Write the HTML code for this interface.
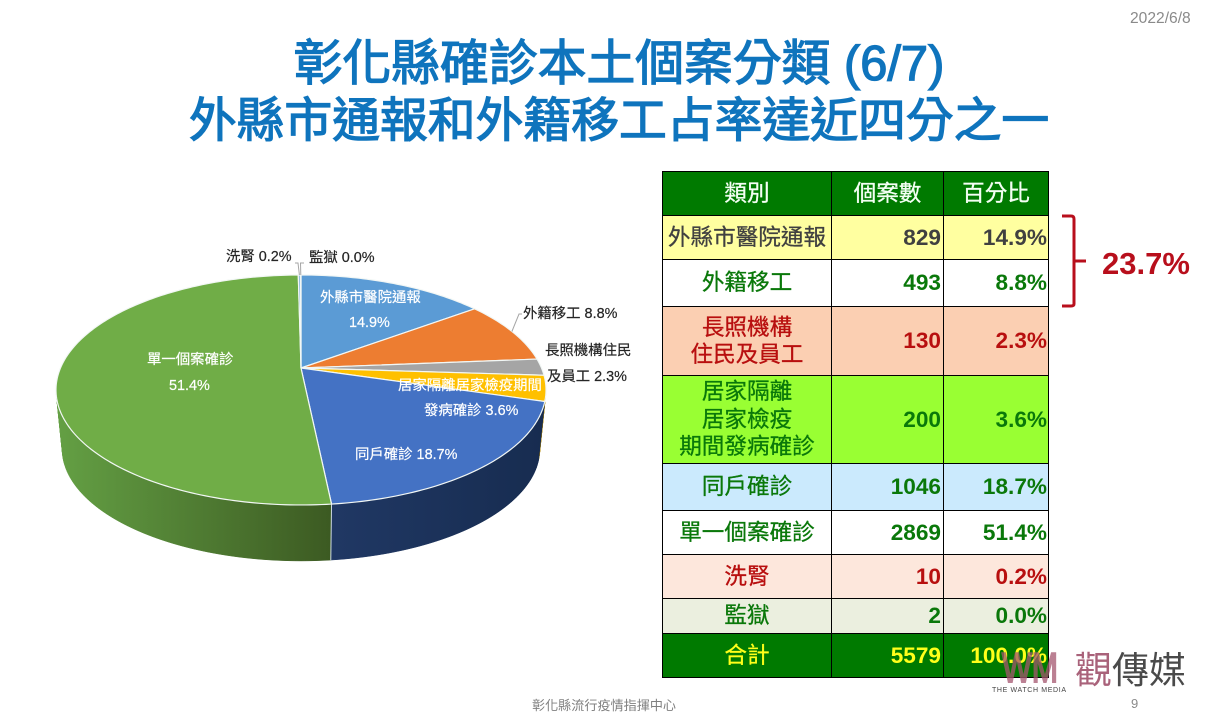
<!DOCTYPE html>
<html lang="zh-Hant">
<head>
<meta charset="utf-8">
<title>彰化縣確診本土個案分類</title>
<style>
html,body{margin:0;padding:0;background:#fff;}
#slide{position:relative;width:1209px;height:720px;overflow:hidden;background:#fff;font-family:"Liberation Sans","Noto Sans CJK TC",sans-serif;}
.abs{position:absolute;white-space:nowrap;}
.title{left:0;width:1238px;text-align:center;font-weight:400;color:#0f74bd;line-height:56px;-webkit-text-stroke:1.3px #0f74bd;}
#pie{position:absolute;left:0;top:0;}
#pie text{font-family:"Liberation Sans","Noto Sans CJK TC",sans-serif;font-size:14.4px;}
.lb{fill:#262626;stroke:#262626;stroke-width:0.2px;}
.lw{fill:#fff;stroke:#fff;stroke-width:0.2px;}
table{position:absolute;left:662px;top:171px;border-collapse:collapse;table-layout:fixed;width:386px;font-family:"Liberation Sans","Noto Sans CJK TC",sans-serif;}
td{border:1.5px solid #000;padding:0;font-size:22.6px;line-height:27.5px;text-align:center;color:#0a780a;-webkit-text-stroke:0.3px currentColor;}
td.n{text-align:right;padding-right:2px;font-weight:700;font-size:22.6px;-webkit-text-stroke:0;}
td.p{padding-right:1px;}
.red td{color:#b80f0f;}
.hd td{background:#007a00;color:#f4fff4;}
.tot td{background:#007a00;color:#ffff1a;}
</style>
</head>
<body>
<div id="slide">
  <div class="abs" style="left:1130px;top:10px;font-size:15.6px;color:#8a8a8a;">2022/6/8</div>
  <div class="abs title" style="top:36px;font-size:48.8px;">彰化縣確診本土個案分類 (6/7)</div>
  <div class="abs title" style="top:94px;font-size:47.8px;">外縣市通報和外籍移工占率達近四分之一</div>

  <svg id="pie" width="1209" height="720" viewBox="0 0 1209 720">
    <defs id="pie-defs"></defs>
    <g id="pie-sides"></g>
    <g id="pie-tops"></g>
    <g id="pie-leaders"></g>
    <g>
      <text class="lb" x="226" y="261">洗腎 0.2%</text>
      <text class="lb" x="309" y="262">監獄 0.0%</text>
      <text class="lw" x="320" y="302">外縣市醫院通報</text>
      <text class="lw" x="349" y="327">14.9%</text>
      <text class="lb" x="523" y="318">外籍移工 8.8%</text>
      <text class="lb" x="545" y="355">長照機構住民</text>
      <text class="lb" x="547" y="381">及員工 2.3%</text>
      <text class="lw" x="398" y="390">居家隔離居家檢疫期間</text>
      <text class="lw" x="424" y="415">發病確診 3.6%</text>
      <text class="lw" x="355" y="459">同戶確診 18.7%</text>
      <text class="lw" x="147" y="364">單一個案確診</text>
      <text class="lw" x="169" y="390">51.4%</text>
    </g>
  </svg>

  <table>
    <colgroup><col style="width:169px"><col style="width:112px"><col style="width:105px"></colgroup>
    <tr class="hd" style="height:44px"><td>類別</td><td>個案數</td><td>百分比</td></tr>
    <tr style="height:44px;background:#ffffa0"><td style="color:#404040">外縣市醫院通報</td><td class="n" style="color:#404040">829</td><td class="n p" style="color:#404040">14.9%</td></tr>
    <tr style="height:47px;background:#fff"><td>外籍移工</td><td class="n">493</td><td class="n p">8.8%</td></tr>
    <tr class="red" style="height:69px;background:#fbcfb2"><td>長照機構<br>住民及員工</td><td class="n">130</td><td class="n p">2.3%</td></tr>
    <tr style="height:88px;background:#99ff33"><td>居家隔離<br>居家檢疫<br>期間發病確診</td><td class="n">200</td><td class="n p">3.6%</td></tr>
    <tr style="height:47px;background:#cbeafd"><td>同戶確診</td><td class="n">1046</td><td class="n p">18.7%</td></tr>
    <tr style="height:44px;background:#fff"><td>單一個案確診</td><td class="n">2869</td><td class="n p">51.4%</td></tr>
    <tr class="red" style="height:44px;background:#fde7dc"><td>洗腎</td><td class="n">10</td><td class="n p">0.2%</td></tr>
    <tr style="height:35px;background:#ebefdf"><td>監獄</td><td class="n">2</td><td class="n p">0.0%</td></tr>
    <tr class="tot" style="height:44px"><td>合計</td><td class="n">5579</td><td class="n p">100.0%</td></tr>
  </table>

  <svg class="abs" style="left:0;top:0;" width="1209" height="720" viewBox="0 0 1209 720">
    <path d="M1062 216 H1071 Q1074 216 1074 219 V304 Q1074 306 1071 306 H1062 M1074 261 H1086" fill="none" stroke="#b80f1c" stroke-width="3"/>
    <text x="1102" y="274" font-family="Liberation Sans" font-weight="700" font-size="31" fill="#b80f1c">23.7%</text>
    <text x="1002" y="682" font-family="Liberation Sans" font-size="42" fill="#a5566f" stroke="#a5566f" stroke-width="2" opacity="0.75" textLength="56" lengthAdjust="spacingAndGlyphs">WM</text>
    <text x="992" y="692" font-family="Liberation Sans" font-size="7" fill="#444" textLength="74">THE WATCH MEDIA</text>
    <text x="1075" y="683" font-family="Noto Sans CJK TC" font-size="37" fill="#a9627a">觀</text>
    <text x="1112" y="683" font-family="Noto Sans CJK TC" font-size="37" fill="#4a4a4a">傳媒</text>
  </svg>

  <div class="abs" style="left:532px;top:695px;font-size:13.1px;color:#7f7f7f;">彰化縣流行疫情指揮中心</div>
  <div class="abs" style="left:1131px;top:696px;font-size:13px;color:#8a8a8a;">9</div>
</div>

<script>
var sliceNames = ['外縣市醫院通報', '外籍移工', '長照機構住民及員工', '居家隔離居家檢疫期間發病確診', '同戶確診', '單一個案確診', '洗腎', '監獄'];
var sliceCounts = [829, 493, 130, 200, 1046, 2869, 10, 2];
var sliceTopColors = ['#5b9bd5', '#ed7d31', '#a5a5a5', '#ffc000', '#4472c4', '#70ad47', '#8fb8de', '#8fb8de'];
var sliceWallLeft = ['#3d6f9c', '#b55f24', '#7c7c7c', '#b38700', '#203864', '#64a044', '#5f86a8', '#5f86a8'];
var sliceWallRight = ['#3d6f9c', '#b55f24', '#7c7c7c', '#b38700', '#172c50', '#3c5a22', '#5f86a8', '#5f86a8'];

var NS = 'http://www.w3.org/2000/svg';
var cx = 301, cy = 368, radX = 240.5, radY = 110.8, persp = 0.191, wallDrop = 59.4, wallScale = 0.975;

function topPoint(deg) {
  var t = deg * Math.PI / 180, w = 1 + persp * Math.cos(t);
  return [cx + radX * Math.sin(t) / w, cy - radY * Math.cos(t) / w];
}
function bottomPoint(deg) {
  var t = deg * Math.PI / 180, w = 1 + persp * Math.cos(t);
  return [cx + wallScale * radX * Math.sin(t) / w, cy + wallDrop - wallScale * radY * Math.cos(t) / w];
}
function arc(fn, a, b) {
  var pts = [], n = Math.max(2, Math.ceil(Math.abs(b - a))), i;
  for (i = 0; i <= n; i++) { pts.push(fn(a + (b - a) * i / n)); }
  return pts;
}
function toPath(pts) {
  return 'M' + pts.map(function (p) { return p[0].toFixed(2) + ' ' + p[1].toFixed(2); }).join('L') + 'Z';
}
function quadPath(q) {
  var area = 0, i, j;
  for (i = 0; i < q.length; i++) {
    j = (i + 1) % q.length;
    area += q[i][0] * q[j][1] - q[j][0] * q[i][1];
  }
  return toPath(area < 0 ? q.slice().reverse() : q);
}

var total = sliceCounts.reduce(function (s, v) { return s + v; }, 0);
var defs = document.getElementById('pie-defs');
var sides = document.getElementById('pie-sides');
var tops = document.getElementById('pie-tops');
var leaders = document.getElementById('pie-leaders');
var mids = [];
var angle = 0;

sliceCounts.forEach(function (v, i) {
  var a = angle, b = angle + v / total * 360;
  angle = b;
  mids.push((a + b) / 2);

  var top = arc(topPoint, a, b);
  var bottom = arc(bottomPoint, a, b);
  var xs = top.concat(bottom).map(function (p) { return p[0]; });

  var grad = document.createElementNS(NS, 'linearGradient');
  grad.setAttribute('id', 'wall-' + i);
  grad.setAttribute('gradientUnits', 'userSpaceOnUse');
  grad.setAttribute('x1', Math.min.apply(null, xs));
  grad.setAttribute('x2', Math.max.apply(null, xs));
  grad.setAttribute('y1', 0);
  grad.setAttribute('y2', 0);
  var s0 = document.createElementNS(NS, 'stop');
  s0.setAttribute('offset', '0');
  s0.setAttribute('stop-color', sliceWallLeft[i]);
  var s1 = document.createElementNS(NS, 'stop');
  s1.setAttribute('offset', '1');
  s1.setAttribute('stop-color', sliceWallRight[i]);
  grad.appendChild(s0);
  grad.appendChild(s1);
  defs.appendChild(grad);

  var d = '', k;
  for (k = 0; k < top.length - 1; k++) {
    d += quadPath([top[k], top[k + 1], bottom[k + 1], bottom[k]]);
  }
  var wall = document.createElementNS(NS, 'path');
  
  
  wall.setAttribute('d', d);
  wall.setAttribute('fill', 'url(#wall-' + i + ')');
  wall.setAttribute('stroke', 'url(#wall-' + i + ')');
  wall.setAttribute('stroke-width', '0.5');
  sides.appendChild(wall);

  var slice = document.createElementNS(NS, 'path');
  
  
  slice.setAttribute('d', toPath([[cx, cy]].concat(top)));
  slice.setAttribute('fill', sliceTopColors[i]);
  slice.setAttribute('stroke', '#f2f7f5');
  slice.setAttribute('stroke-width', '1.2');
  slice.setAttribute('stroke-linejoin', 'round');
  var tip = document.createElementNS(NS, 'title');
  tip.textContent = sliceNames[i];
  slice.appendChild(tip);
  tops.appendChild(slice);
});

var edgeAngle = 0;
sliceCounts.forEach(function (v) {
  edgeAngle += v / total * 360;
  if (edgeAngle > 110 && edgeAngle < 255) {
    var p0 = topPoint(edgeAngle), p1 = bottomPoint(edgeAngle);
    var edge = document.createElementNS(NS, 'line');
    
    
    edge.setAttribute('x1', p0[0]);
    edge.setAttribute('y1', p0[1]);
    edge.setAttribute('x2', p1[0]);
    edge.setAttribute('y2', p1[1]);
    edge.setAttribute('stroke', '#cfdbe2');
    edge.setAttribute('stroke-width', '1');
    sides.appendChild(edge);
  }
});

function addLeader(sliceIndex, elbowX, elbowY, endX) {
  var p = topPoint(mids[sliceIndex]);
  var line = document.createElementNS(NS, 'polyline');
  
  
  line.setAttribute('points', p[0].toFixed(1) + ',' + p[1].toFixed(1) + ' ' + elbowX + ',' + elbowY + ' ' + endX + ',' + elbowY);
  line.setAttribute('fill', 'none');
  line.setAttribute('stroke', '#a6a6a6');
  line.setAttribute('stroke-width', '1');
  leaders.appendChild(line);
}
addLeader(1, 519, 314, 522);
addLeader(6, 298, 263, 295);
addLeader(7, 300.5, 263, 304);
</script>
</body>
</html>
